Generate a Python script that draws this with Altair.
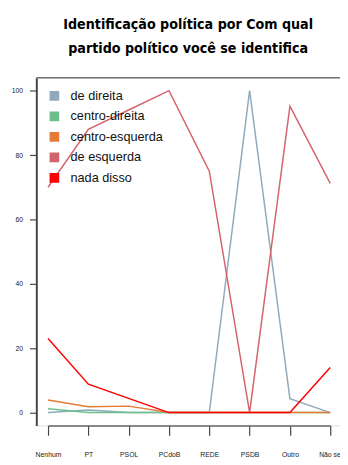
import altair as alt
import pandas as pd

categories = ["Nenhum", "PT", "PSOL", "PCdoB", "REDE", "PSDB", "Outro", "Não sei"]
series = ["de direita", "centro-direita", "centro-esquerda", "de esquerda", "nada disso"]
de_direita = [0, 0.8, 0, 0, 0, 100, 4.3, 0]
centro_direita = [1.2, 0, 0, 0, 0, 0, 0, 0]
centro_esquerda = [3.9, 1.8, 2.0, 0, 0, 0, 0, 0]
de_esquerda = [70, 88, 94, 100, 75, 0, 95.2, 71.2]
nada_disso = [23, 8.8, 4.4, 0, 0, 0, 0, 14.0]
colors = ["#8eaabb", "#6cbf8d", "#e57b36", "#d4646c", "#ff0000"]
widths = [1.5, 1.5, 1.5, 1.5, 2.2]
y_ticks = [0, 20, 40, 60, 80, 100]

values = [de_direita, centro_direita, centro_esquerda, de_esquerda, nada_disso]
rows = []
for s, vals in zip(series, values):
    for c, v in zip(categories, vals):
        rows.append({"serie": s, "categoria": c, "valor": v})
df = pd.DataFrame(rows)

W, H = 311, 356

# filled-looking square legend symbol made of concentric square outlines
square_path = ("M-1,-1H1V1H-1Z M-0.7,-0.7H0.7V0.7H-0.7Z "
               "M-0.4,-0.4H0.4V0.4H-0.4Z M-0.1,-0.1H0.1V0.1H-0.1Z")

x_enc = alt.X("categoria:N", sort=categories,
              scale=alt.Scale(type="point", domain=categories, range=[12, 301], padding=0),
              axis=alt.Axis(title=None, labelAngle=0, grid=False, domain=True,
                            domainColor="#666", domainWidth=1.5, tickColor="#444",
                            tickWidth=1.2, tickSize=10, labelPadding=16, labelFontSize=7,
                            labelColor="#222", labelFont="Liberation Sans"))
y_enc = alt.Y("valor:Q", scale=alt.Scale(domain=[-4, 104], nice=False, zero=False),
              axis=alt.Axis(title=None, values=y_ticks, grid=False, domain=True,
                            domainColor="#444", domainWidth=2, tickColor="#444",
                            tickWidth=1.2, tickSize=7, labelPadding=7, labelFontSize=7,
                            labelColor="#222", labelFont="Liberation Sans"))

lines = alt.Chart(df).transform_calculate(w="datum.serie").mark_line().encode(
    x=x_enc,
    y=y_enc,
    stroke=alt.Stroke("serie:N", sort=series,
                      scale=alt.Scale(domain=series, range=colors),
                      legend=alt.Legend(title=None, orient="top-left", offset=12,
                                        symbolType=square_path, symbolSize=70,
                                        symbolStrokeWidth=1.5,
                                        labelFontSize=13, labelFont="Liberation Sans",
                                        labelColor="#111", labelOffset=10, rowPadding=6,
                                        padding=0)),
    strokeWidth=alt.StrokeWidth("w:N", scale=alt.Scale(domain=series, range=widths),
                                legend=None),
    detail="serie:N",
)

top_line = alt.Chart(alt.Data(values=[{}])).mark_rule(color="#777", strokeWidth=1.5).encode(
    x=alt.value(0), x2=alt.value(W), y=alt.value(0)
)

chart = alt.layer(lines, top_line).properties(
    width=W, height=H,
    title=alt.TitleParams(
        text=["Identificação política por Com qual", "partido político você se identifica"],
        font="DejaVu Sans Condensed", fontSize=14.5, fontWeight="bold", color="black",
        anchor="middle", lineHeight=25, offset=21,
    ),
    autosize=alt.AutoSizeParams(type="none"),
    padding={"left": 29, "top": 66, "right": 0, "bottom": 35},
).configure_view(stroke=None).configure(background="white")

chart.save("out.html", embed_options={"renderer": "svg", "actions": False})
